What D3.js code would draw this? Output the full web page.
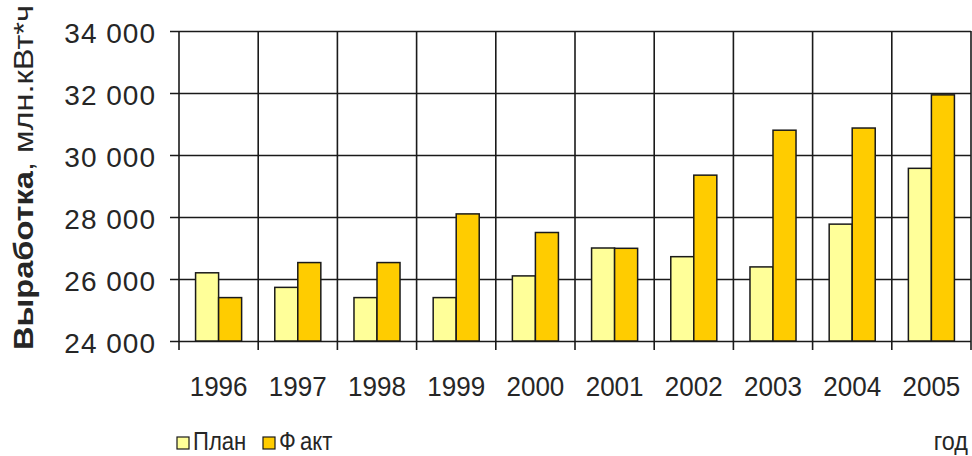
<!DOCTYPE html>
<html lang='ru'>
  <head>
    <meta charset='utf-8'>
    <title>Выработка: план и факт</title>
    <script type='text/javascript' src='https://cdn.jsdelivr.net/npm/d3@7'></script>
    <style type='text/css'>
    body{
      margin: 0;
      background: #fff;
    }
    text{
      font-family: 'Liberation Sans', Arial, sans-serif;
      fill: #262626;
    }
    .grid line{
      stroke: #1a1a1a;
      stroke-width: 1.6;
    }
    .bar{
      stroke: #1a1a1a;
      stroke-width: 1.5;
    }
    </style>
  </head>
  <body>
    <script type='text/javascript'>

    // data
    var years = ['1996','1997','1998','1999','2000','2001','2002','2003','2004','2005'];
    var plan = [26200, 25730, 25400, 25400, 26100, 27000, 26720, 26390, 27770, 29570];
    var fact = [25400, 26530, 26530, 28100, 27500, 26990, 29350, 30800, 30870, 31940];
    var yTicks = [24000, 26000, 28000, 30000, 32000, 34000];
    var seriesNames = ['План', 'Факт'];
    var seriesColors = ['#ffff99', '#ffcc00'];

    var w = 972;
    var h = 456;
    // plot box (not "top": that name is taken by window.top)
    var pLeft = 179, pRight = 971, pTop = 31, pBottom = 341;

    var svg = d3.select('body')
                .append('svg')
                .attr('width', w)
                .attr('height', h);

    var xScale = d3.scaleBand()
                   .domain(years)
                   .range([pLeft, pRight]);

    var subScale = d3.scaleBand()
                     .domain([0, 1])
                     .range([0, xScale.bandwidth()])
                     .paddingOuter(0.72);

    var yScale = d3.scaleLinear()
                   .domain([24000, 34000])
                   .range([pBottom, pTop]);

    var ru = d3.formatLocale({decimal: ',', thousands: ' ', grouping: [3], currency: ['', '']});

    // horizontal grid + y labels
    var yAxis = d3.axisLeft(yScale)
                  .tickValues(yTicks)
                  .tickFormat(ru.format(',d'))
                  .tickSize(pRight - pLeft + 9)
                  .tickPadding(14);

    var gy = svg.append('g')
       .attr('class', 'grid')
       .attr('transform', 'translate(' + pRight + ',0)')
       .call(yAxis);
    gy.select('.domain').remove();
    gy.selectAll('text')
      .attr('dy', 11)
      .style('font-size', '28px')
      .style('letter-spacing', '1px');

    // vertical grid at category boundaries
    var bounds = years.map(function(d){ return xScale(d); }).concat([pRight]);
    svg.append('g')
       .attr('class', 'grid')
       .selectAll('line')
       .data(bounds)
       .enter()
       .append('line')
       .attr('x1', function(d){ return d; })
       .attr('x2', function(d){ return d; })
       .attr('y1', pTop)
       .attr('y2', pBottom + 9);

    // bars
    var rows = years.map(function(y, i){ return {year: y, vals: [plan[i], fact[i]]}; });

    svg.selectAll('g.year')
       .data(rows)
       .enter()
       .append('g')
       .attr('class', 'year')
       .attr('transform', function(d){ return 'translate(' + xScale(d.year) + ',0)'; })
       .selectAll('rect')
       .data(function(d){ return d.vals; })
       .enter()
       .append('rect')
       .attr('class', 'bar')
       .attr('x', function(d, i){ return subScale(i); })
       .attr('width', subScale.bandwidth())
       .attr('y', function(d){ return yScale(d); })
       .attr('height', function(d){ return pBottom - yScale(d); })
       .attr('fill', function(d, i){ return seriesColors[i]; });

    // x labels
    var xAxis = d3.axisBottom(xScale)
                  .tickSize(0)
                  .tickPadding(0);
    var gx = svg.append('g')
       .attr('transform', 'translate(0,' + pBottom + ')')
       .call(xAxis);
    gx.select('.domain').remove();
    gx.selectAll('text')
      .attr('y', 55)
      .attr('dy', null)
      .attr('transform', 'scale(0.93,1)')
      .style('font-size', '28px');

    // y title
    var title = svg.append('text')
       .attr('transform', 'translate(33,350) rotate(-90)')
       .attr('textLength', 345)
       .attr('lengthAdjust', 'spacingAndGlyphs')
       .style('font-size', '28px');
    title.append('tspan').style('font-weight', 'bold').text('Выработка');
    title.append('tspan').text(', млн.кВт*ч');

    // legend
    var legX = [177, 263];
    var leg = svg.selectAll('g.leg')
       .data(seriesNames)
       .enter()
       .append('g')
       .attr('class', 'leg')
       .attr('transform', function(d, i){ return 'translate(' + legX[i] + ',437)'; });
    leg.append('rect')
       .attr('width', 12)
       .attr('height', 12)
       .attr('fill', function(d, i){ return seriesColors[i]; })
       .attr('stroke', '#1a1a1a')
       .attr('stroke-width', 1.2);
    leg.append('text')
       .attr('transform', 'translate(16,13) scale(0.85,1)')
       .style('font-size', '26px')
       .each(function(d){
         var t = d3.select(this);
         t.append('tspan').text(d[0]);
         t.append('tspan').attr('dx', d === 'Факт' ? 5 : 0).text(d.slice(1));
       });

    svg.append('text')
       .attr('transform', 'translate(968,450) scale(0.9,1)')
       .attr('text-anchor', 'end')
       .style('font-size', '26px')
       .text('год');

    </script>
  </body>
</html>
